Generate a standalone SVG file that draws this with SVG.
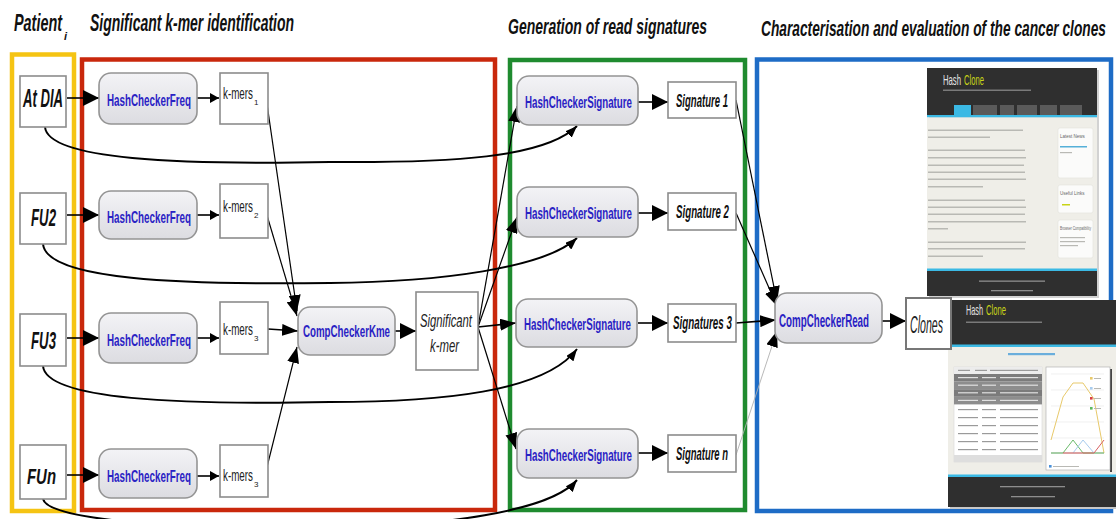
<svg xmlns="http://www.w3.org/2000/svg" width="1116" height="519" viewBox="0 0 1116 519">
<style>
.frame{fill:none;stroke-width:4.5}
.box{fill:#fff;stroke:#8c8c8c;stroke-width:1.6}
.proc{fill:url(#pg);stroke:#949494;stroke-width:1.6}
.plab{font-family:"Liberation Sans Narrow","Liberation Sans",Arial,sans-serif;font-weight:bold;fill:#2a22c4}
.blab{font-family:"Liberation Sans Narrow","Liberation Sans",Arial,sans-serif;font-weight:bold;font-style:italic;fill:#111}
.nlab{font-family:"Liberation Sans Narrow","Liberation Sans",Arial,sans-serif;fill:#222}
.ilab{font-family:"Liberation Sans Narrow","Liberation Sans",Arial,sans-serif;font-style:italic;fill:#222}
.ttl{font-family:"Liberation Sans Narrow","Liberation Sans",Arial,sans-serif;font-weight:bold;font-style:italic;fill:#111}
.hc{font-family:"Liberation Sans Narrow","Liberation Sans",Arial,sans-serif;font-size:15px}
.e{stroke:#000;stroke-width:1.6;fill:none}
.t{stroke:#000;stroke-width:1.2;fill:none}
.c{stroke:#000;stroke-width:2;fill:none}
.dk{fill:#2f2f2f}
.cy{fill:#3bb9e4}
.bd{fill:#efeee8}
.tx{fill:#b9b9b4}
.ft{fill:#8d8d8d}
.sb{fill:#fbfbfa;stroke:#e2e2dc;stroke-width:0.6}
.tiny{font-family:"Liberation Sans",Arial,sans-serif;font-size:4.5px;fill:#666}
</style>
<defs>
<linearGradient id="pg" x1="0" y1="0" x2="0" y2="1">
<stop offset="0" stop-color="#f3f3f6"/>
<stop offset="1" stop-color="#dcdce1"/>
</linearGradient>
<marker id="big" markerUnits="userSpaceOnUse" viewBox="0 0 16 16" markerWidth="16" markerHeight="16" refX="16" refY="8" orient="auto"><path d="M0,0 L16,8 L0,16 z" fill="#000"/></marker>
<marker id="mid" markerUnits="userSpaceOnUse" viewBox="0 0 16 12" markerWidth="16" markerHeight="12" refX="16" refY="6" orient="auto"><path d="M0,0 L16,6 L0,12 z" fill="#000"/></marker>
<marker id="sm" markerUnits="userSpaceOnUse" viewBox="0 0 9 10" markerWidth="9" markerHeight="10" refX="9" refY="5" orient="auto"><path d="M0,0 L9,5 L0,10 z" fill="#000"/></marker>
<marker id="cv" markerUnits="userSpaceOnUse" viewBox="0 0 12 9" markerWidth="12" markerHeight="9" refX="12" refY="4.5" orient="auto"><path d="M0,0 L12,4.5 L0,9 z" fill="#000"/></marker>
<marker id="gr" markerUnits="userSpaceOnUse" viewBox="0 0 16 12" markerWidth="16" markerHeight="12" refX="16" refY="6" orient="auto"><path d="M0,0 L16,6 L0,12 z" fill="#000"/></marker>
</defs>
<rect width="1116" height="519" fill="#fff"/>

<!-- titles -->
<g id="titles">
<text class="ttl" x="14" y="31" font-size="23" textLength="48" lengthAdjust="spacingAndGlyphs">Patient</text>
<text class="ttl" x="64" y="40" font-size="11">i</text>
<text class="ttl" x="90" y="31" font-size="23" textLength="204" lengthAdjust="spacingAndGlyphs">Significant k-mer identification</text>
<text class="ttl" x="508" y="34" font-size="22" textLength="199" lengthAdjust="spacingAndGlyphs">Generation of read signatures</text>
<text class="ttl" x="761" y="36" font-size="22" textLength="345" lengthAdjust="spacingAndGlyphs">Characterisation and  evaluation of the cancer clones</text>
</g>

<!-- stage frames -->
<g id="frames">
<rect class="frame" x="12" y="54.5" width="62" height="456.5" stroke="#f5c413"/>
<rect class="frame" x="82" y="59.5" width="413" height="450.5" stroke="#c9280c"/>
<rect class="frame" x="510" y="60" width="235" height="450" stroke="#1f8b2f"/>
<rect class="frame" x="757" y="59.5" width="354" height="451.5" stroke="#1e6cc6"/>
</g>

<!-- screenshots -->
<g id="screenshot-home">
<rect x="929" y="70" width="170" height="228" fill="#d2d2d2"/>
<rect class="dk" x="927" y="68" width="170" height="48"/>
<text class="hc" x="943" y="85" fill="#e4e4e4" textLength="18" lengthAdjust="spacingAndGlyphs">Hash</text>
<text class="hc" x="964" y="85" fill="#c8d417" textLength="20" lengthAdjust="spacingAndGlyphs">Clone</text>
<rect x="943" y="89.5" width="88" height="1.5" fill="#7a7a7a"/>
<rect class="cy" x="954" y="105" width="17" height="10"/>
<rect x="973" y="105" width="24" height="10" fill="#5a5a5a"/>
<rect x="1000" y="105" width="14" height="10" fill="#5a5a5a"/>
<rect x="1017" y="105" width="20" height="10" fill="#5a5a5a"/>
<rect x="1040" y="105" width="17" height="10" fill="#5a5a5a"/>
<rect x="1060" y="105" width="22" height="10" fill="#5a5a5a"/>
<rect class="cy" x="927" y="115" width="170" height="2.5"/>
<rect class="bd" x="927" y="117.5" width="170" height="151.5"/>
<rect class="tx" x="928" y="129.5" width="95" height="1.5"/>
<rect class="tx" x="928" y="136.5" width="62" height="1.5"/>
<rect class="tx" x="928" y="149.5" width="97" height="1.5"/>
<rect class="tx" x="928" y="157" width="98" height="1.5"/>
<rect class="tx" x="928" y="164.5" width="96" height="1.5"/>
<rect class="tx" x="928" y="171.5" width="97" height="1.5"/>
<rect class="tx" x="928" y="178.5" width="98" height="1.5"/>
<rect class="tx" x="928" y="186" width="55" height="1.5"/>
<rect class="tx" x="928" y="199.5" width="97" height="1.5"/>
<rect class="tx" x="928" y="206.5" width="98" height="1.5"/>
<rect class="tx" x="928" y="213.5" width="97" height="1.5"/>
<rect class="tx" x="928" y="221" width="98" height="1.5"/>
<rect class="tx" x="928" y="228" width="20" height="1.5"/>
<rect class="tx" x="928" y="241.5" width="98" height="1.5"/>
<rect class="tx" x="928" y="248" width="97" height="1.5"/>
<rect class="tx" x="928" y="255.5" width="55" height="1.5"/>
<rect class="sb" x="1058" y="128" width="35" height="50" rx="2"/>
<text class="tiny" x="1060" y="138">Latest News</text>
<rect x="1060" y="146" width="27" height="1.5" fill="#55b0d8"/>
<rect class="tx" x="1060" y="152" width="12" height="1.2"/>
<rect class="sb" x="1058" y="185" width="35" height="28" rx="2"/>
<text class="tiny" x="1060" y="195">Useful Links</text>
<rect x="1062" y="204" width="8" height="1.5" fill="#c8d417"/>
<rect class="sb" x="1058" y="220" width="35" height="38" rx="2"/>
<text class="tiny" x="1060" y="230" textLength="31" lengthAdjust="spacingAndGlyphs">Browser Compatibility</text>
<rect class="tx" x="1060" y="237" width="25" height="1.2"/>
<rect class="tx" x="1060" y="241" width="25" height="1.2"/>
<rect class="tx" x="1060" y="245" width="18" height="1.2"/>
<rect class="cy" x="927" y="268.5" width="170" height="2.5"/>
<rect class="dk" x="927" y="271" width="170" height="25"/>
<rect class="ft" x="979" y="280.5" width="66" height="1.3"/>
<rect class="ft" x="991" y="290" width="42" height="1.3"/>
</g>

<g id="screenshot-clones">
<rect x="950" y="302" width="166" height="207" fill="#c8c8c8"/>
<rect class="dk" x="948" y="300" width="168" height="45"/>
<text class="hc" x="966" y="315" fill="#e4e4e4" textLength="17" lengthAdjust="spacingAndGlyphs">Hash</text>
<text class="hc" x="986" y="315" fill="#c8d417" textLength="20" lengthAdjust="spacingAndGlyphs">Clone</text>
<rect x="966" y="321.5" width="76" height="1.5" fill="#7a7a7a"/>
<rect class="cy" x="948" y="344.5" width="168" height="2.5"/>
<rect class="bd" x="948" y="347" width="168" height="128"/>
<rect x="1008" y="353" width="47" height="2.2" fill="#6aaedc"/>
<rect x="954" y="367" width="88" height="95" fill="#fff" stroke="#d8d8d8" stroke-width="0.6"/>
<rect x="954" y="367" width="88" height="7" fill="#ececec"/>
<rect x="954" y="374" width="88" height="7.6" fill="#7b7b7b"/>
<rect x="954" y="381.6" width="88" height="7.6" fill="#8d8d8d"/>
<rect x="954" y="389.2" width="88" height="7.6" fill="#7b7b7b"/>
<rect x="954" y="396.8" width="88" height="7.6" fill="#8d8d8d"/>
<g fill="#e0e0e0">
<rect x="958" y="377" width="20" height="1.2"/><rect x="982" y="377" width="14" height="1.2"/><rect x="1000" y="377" width="38" height="1.2"/>
<rect x="958" y="384.6" width="20" height="1.2"/><rect x="982" y="384.6" width="14" height="1.2"/><rect x="1000" y="384.6" width="38" height="1.2"/>
<rect x="958" y="392.2" width="20" height="1.2"/><rect x="982" y="392.2" width="14" height="1.2"/><rect x="1000" y="392.2" width="38" height="1.2"/>
<rect x="958" y="399.8" width="20" height="1.2"/><rect x="982" y="399.8" width="14" height="1.2"/><rect x="1000" y="399.8" width="38" height="1.2"/>
</g>
<g fill="#9a9a9a">
<rect x="958" y="369.8" width="12" height="1.2"/><rect x="975" y="369.8" width="12" height="1.2"/><rect x="990" y="369.8" width="48" height="1.2"/>
<rect x="958" y="409" width="20" height="1.2"/><rect x="982" y="409" width="14" height="1.2"/><rect x="1000" y="409" width="38" height="1.2"/>
<rect x="958" y="417" width="20" height="1.2"/><rect x="982" y="417" width="14" height="1.2"/><rect x="1000" y="417" width="38" height="1.2"/>
<rect x="958" y="425" width="20" height="1.2"/><rect x="982" y="425" width="14" height="1.2"/><rect x="1000" y="425" width="38" height="1.2"/>
<rect x="958" y="433" width="20" height="1.2"/><rect x="982" y="433" width="14" height="1.2"/><rect x="1000" y="433" width="38" height="1.2"/>
<rect x="958" y="441" width="20" height="1.2"/><rect x="982" y="441" width="14" height="1.2"/><rect x="1000" y="441" width="38" height="1.2"/>
<rect x="958" y="449" width="20" height="1.2"/><rect x="982" y="449" width="14" height="1.2"/><rect x="1000" y="449" width="38" height="1.2"/>
</g>
<rect x="954" y="455" width="88" height="7" fill="#dedede"/>
<rect x="1110" y="369" width="2" height="103" fill="#444"/>
<rect x="1046" y="367" width="64" height="103" fill="#fff" stroke="#a8a8a8" stroke-width="0.6"/>
<g stroke="#e6e6e6" stroke-width="0.6">
<line x1="1051" y1="374" x2="1104" y2="374"/><line x1="1051" y1="390" x2="1104" y2="390"/><line x1="1051" y1="406" x2="1104" y2="406"/><line x1="1051" y1="422" x2="1104" y2="422"/><line x1="1051" y1="438" x2="1104" y2="438"/>
</g>
<line x1="1051" y1="453" x2="1104" y2="453" stroke="#999" stroke-width="0.6"/>
<polyline points="1051,440 1063,397 1073,383 1083,383 1094,399 1104,453" fill="none" stroke="#e8c96a" stroke-width="1"/>
<polyline points="1051,453 1063,453 1073,440 1083,453 1104,453" fill="none" stroke="#6bbb6b" stroke-width="1"/>
<polyline points="1073,453 1083,440 1094,453" fill="none" stroke="#a8ccee" stroke-width="1"/>
<polyline points="1063,453 1083,453 1094,453 1104,440" fill="none" stroke="#d86060" stroke-width="1"/>
<rect x="1090" y="377" width="2.6" height="2.6" fill="#e8c96a"/><rect class="tx" x="1094" y="378" width="7" height="1"/>
<rect x="1090" y="387" width="2.6" height="2.6" fill="#a8ccee"/><rect class="tx" x="1094" y="388" width="7" height="1"/>
<rect x="1090" y="397" width="2.6" height="2.6" fill="#d84040"/><rect class="tx" x="1094" y="398" width="7" height="1"/>
<rect x="1090" y="407" width="2.6" height="2.6" fill="#5cb85c"/><rect class="tx" x="1094" y="408" width="7" height="1"/>
<rect x="1049" y="465" width="2.6" height="2.6" fill="#4a90d9"/><rect class="tx" x="1053" y="466" width="26" height="1"/>
<rect class="cy" x="948" y="474.5" width="168" height="2.5"/>
<rect class="dk" x="948" y="477" width="168" height="30"/>
<rect class="ft" x="1000" y="486" width="65" height="1.3"/>
<rect class="ft" x="1011" y="496" width="44" height="1.3"/>
</g>

<!-- connectors -->
<g id="connectors">
<line class="e" x1="67" y1="98" x2="99" y2="98" marker-end="url(#big)"/>
<line class="e" x1="67" y1="215" x2="99" y2="215" marker-end="url(#big)"/>
<line class="e" x1="67" y1="338" x2="99" y2="338" marker-end="url(#big)"/>
<line class="e" x1="67" y1="475" x2="99" y2="475" marker-end="url(#big)"/>
<line class="e" x1="197" y1="98" x2="219" y2="98" marker-end="url(#sm)"/>
<line class="e" x1="197" y1="215" x2="219" y2="215" marker-end="url(#sm)"/>
<line class="e" x1="197" y1="338" x2="219" y2="338" marker-end="url(#sm)"/>
<line class="e" x1="197" y1="476" x2="219" y2="476" marker-end="url(#sm)"/>
<line class="t" x1="267" y1="104" x2="297" y2="311" marker-end="url(#mid)"/>
<line class="t" x1="266" y1="212" x2="297" y2="316" marker-end="url(#mid)"/>
<line class="e" x1="268" y1="329" x2="298" y2="331" marker-end="url(#mid)"/>
<line class="t" x1="266" y1="471" x2="297" y2="347" marker-end="url(#mid)"/>
<line class="e" x1="395" y1="331" x2="416" y2="331" marker-end="url(#big)"/>
<line class="t" x1="478" y1="327" x2="517" y2="106" marker-end="url(#mid)"/>
<line class="t" x1="478" y1="327" x2="517" y2="217" marker-end="url(#mid)"/>
<line class="e" x1="478" y1="327" x2="516" y2="323" marker-end="url(#mid)"/>
<line class="t" x1="478" y1="327" x2="516" y2="449" marker-end="url(#mid)"/>
<line class="e" x1="638" y1="102" x2="668" y2="102" marker-end="url(#big)"/>
<line class="e" x1="638" y1="213" x2="668" y2="213" marker-end="url(#big)"/>
<line class="e" x1="638" y1="323" x2="668" y2="323" marker-end="url(#big)"/>
<line class="e" x1="638" y1="453" x2="668" y2="453" marker-end="url(#big)"/>
<line class="t" x1="736" y1="100" x2="777" y2="302" marker-end="url(#mid)"/>
<line class="t" x1="736" y1="213" x2="777" y2="306" marker-end="url(#mid)"/>
<line class="e" x1="736" y1="323" x2="776" y2="320" marker-end="url(#mid)"/>
<line x1="736" y1="455" x2="777" y2="331" stroke="#b0b0b0" stroke-width="0.9" marker-end="url(#gr)"/>
<line class="e" x1="882" y1="321" x2="906" y2="321" marker-end="url(#big)"/>
<path class="c" d="M45,127 C48,160 180,165 330,162 C450,163 545,158 577,126" marker-end="url(#cv)"/>
<path class="c" d="M43,244 C46,280 180,285 330,283 C440,282 545,268 577,238" marker-end="url(#cv)"/>
<path class="c" d="M43,366 C46,400 180,405 330,402 C440,402 545,392 577,349" marker-end="url(#cv)"/>
<path class="c" d="M43,499 C48,520 180,530 330,528 C440,526 550,512 577,480" marker-end="url(#cv)"/>
</g>

<!-- patient nodes -->
<g id="at-dia"><rect class="box" x="20" y="76" width="46" height="51"/><text class="blab" x="23" y="107" font-size="25" textLength="40" lengthAdjust="spacingAndGlyphs">At DIA</text></g>
<g id="fu2"><rect class="box" x="20" y="193" width="46" height="51"/><text class="blab" x="31" y="226" font-size="23" textLength="25" lengthAdjust="spacingAndGlyphs">FU2</text></g>
<g id="fu3"><rect class="box" x="20" y="314" width="46" height="52"/><text class="blab" x="31" y="349" font-size="23" textLength="25" lengthAdjust="spacingAndGlyphs">FU3</text></g>
<g id="fun"><rect class="box" x="20" y="445" width="46" height="54"/><text class="blab" x="27" y="484" font-size="22" textLength="29" lengthAdjust="spacingAndGlyphs">FUn</text></g>

<!-- HashCheckerFreq -->
<g id="hcf1"><rect class="proc" x="99" y="73" width="98" height="51" rx="12"/><text class="plab" x="107" y="106" font-size="17" textLength="84" lengthAdjust="spacingAndGlyphs">HashCheckerFreq</text></g>
<g id="hcf2"><rect class="proc" x="99" y="191" width="98" height="48" rx="12"/><text class="plab" x="107" y="223" font-size="17" textLength="84" lengthAdjust="spacingAndGlyphs">HashCheckerFreq</text></g>
<g id="hcf3"><rect class="proc" x="99" y="313" width="98" height="50" rx="12"/><text class="plab" x="107" y="346" font-size="17" textLength="84" lengthAdjust="spacingAndGlyphs">HashCheckerFreq</text></g>
<g id="hcf4"><rect class="proc" x="99" y="449" width="98" height="49" rx="12"/><text class="plab" x="107" y="482" font-size="17" textLength="84" lengthAdjust="spacingAndGlyphs">HashCheckerFreq</text></g>

<!-- k-mers -->
<g id="kmers1"><rect class="box" x="220" y="73" width="48" height="51"/><text class="nlab" x="223" y="99" font-size="16" textLength="30" lengthAdjust="spacingAndGlyphs">k-mers</text><text class="nlab" x="254" y="105" font-size="8">1</text></g>
<g id="kmers2"><rect class="box" x="220" y="184" width="48" height="54"/><text class="nlab" x="223" y="212" font-size="16" textLength="30" lengthAdjust="spacingAndGlyphs">k-mers</text><text class="nlab" x="254" y="218" font-size="8">2</text></g>
<g id="kmers3"><rect class="box" x="220" y="302" width="48" height="52"/><text class="nlab" x="223" y="335" font-size="16" textLength="30" lengthAdjust="spacingAndGlyphs">k-mers</text><text class="nlab" x="254" y="341" font-size="8">3</text></g>
<g id="kmers4"><rect class="box" x="220" y="445" width="48" height="52"/><text class="nlab" x="223" y="481" font-size="16" textLength="30" lengthAdjust="spacingAndGlyphs">k-mers</text><text class="nlab" x="254" y="487" font-size="8">3</text></g>

<!-- CompCheckerKme -->
<g id="compcheckerkme"><rect class="proc" x="298" y="307" width="97" height="48" rx="12"/><text class="plab" x="303" y="337" font-size="17" textLength="87" lengthAdjust="spacingAndGlyphs">CompCheckerKme</text></g>

<!-- Significant k-mer -->
<g id="significant-kmer"><rect class="box" x="416" y="292" width="62" height="78"/><text class="ilab" x="420" y="327" font-size="19" textLength="52" lengthAdjust="spacingAndGlyphs">Significant</text><text class="ilab" x="430" y="352" font-size="19" textLength="29" lengthAdjust="spacingAndGlyphs">k-mer</text></g>

<!-- HashCheckerSignature -->
<g id="hcs1"><rect class="proc" x="517" y="76" width="121" height="49" rx="12"/><text class="plab" x="525" y="108" font-size="17" textLength="107" lengthAdjust="spacingAndGlyphs">HashCheckerSignature</text></g>
<g id="hcs2"><rect class="proc" x="517" y="187" width="121" height="50" rx="12"/><text class="plab" x="525" y="219" font-size="17" textLength="107" lengthAdjust="spacingAndGlyphs">HashCheckerSignature</text></g>
<g id="hcs3"><rect class="proc" x="516" y="299" width="121" height="48" rx="12"/><text class="plab" x="524" y="330" font-size="17" textLength="107" lengthAdjust="spacingAndGlyphs">HashCheckerSignature</text></g>
<g id="hcs4"><rect class="proc" x="517" y="429" width="121" height="49" rx="12"/><text class="plab" x="525" y="461" font-size="17" textLength="107" lengthAdjust="spacingAndGlyphs">HashCheckerSignature</text></g>

<!-- Signatures -->
<g id="sig1"><rect class="box" x="668" y="82" width="68" height="36"/><text class="blab" x="676" y="107" font-size="18" textLength="52" lengthAdjust="spacingAndGlyphs">Signature 1</text></g>
<g id="sig2"><rect class="box" x="668" y="193" width="68" height="37"/><text class="blab" x="676" y="218" font-size="18" textLength="53" lengthAdjust="spacingAndGlyphs">Signature 2</text></g>
<g id="sig3"><rect class="box" x="668" y="304" width="68" height="38"/><text class="blab" x="673" y="329" font-size="18" textLength="59" lengthAdjust="spacingAndGlyphs">Signatures 3</text></g>
<g id="sign"><rect class="box" x="668" y="435" width="68" height="37"/><text class="blab" x="676" y="460" font-size="18" textLength="52" lengthAdjust="spacingAndGlyphs">Signature n</text></g>

<!-- CompCheckerRead -->
<g id="compcheckerread"><rect class="proc" x="775" y="293" width="107" height="50" rx="12"/><text class="plab" x="779" y="327" font-size="19" textLength="90" lengthAdjust="spacingAndGlyphs">CompCheckerRead</text></g>

<!-- Clones -->
<g id="clones"><rect x="906" y="298" width="45" height="51" fill="#fff" stroke="#777" stroke-width="2"/><text class="ilab" x="910" y="333" font-size="23" textLength="33" lengthAdjust="spacingAndGlyphs">Clones</text></g>
</svg>
